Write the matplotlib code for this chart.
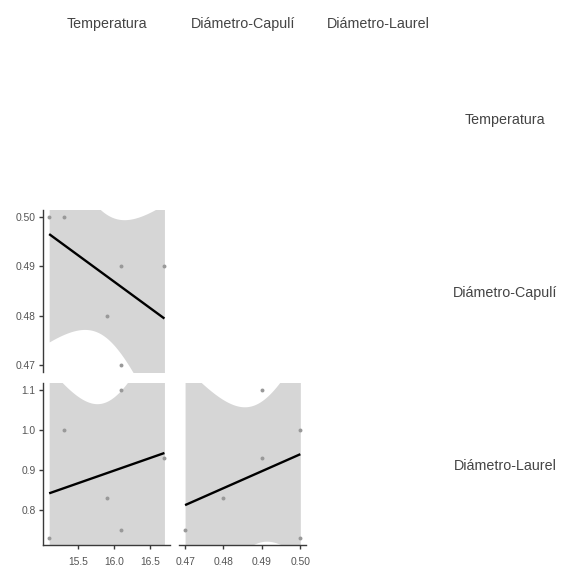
import numpy as np
import matplotlib
matplotlib.use("Agg")
import matplotlib.pyplot as plt

plt.rcParams['font.family'] = ['Liberation Sans', 'DejaVu Sans']

variables = ["Temperatura", "Diámetro-Capulí", "Diámetro-Laurel"]
temperatura = [15.1, 15.3, 16.1, 16.7, 15.9, 16.1]
capuli = [0.50, 0.50, 0.49, 0.49, 0.48, 0.47]
laurel = [0.73, 1.00, 1.10, 0.93, 0.83, 0.75]
data = [temperatura, capuli, laurel]

ticks = [[15.5, 16.0, 16.5], [0.47, 0.48, 0.49, 0.50], [0.8, 0.9, 1.0, 1.1]]
tick_labels = [["15.5", "16.0", "16.5"], ["0.47", "0.48", "0.49", "0.50"],
               ["0.8", "0.9", "1.0", "1.1"]]

T_CRIT = 2.776  # t quantile 0.975, df = n - 2 = 4

W, H = 563, 565
fig = plt.figure(figsize=(W / 100, H / 100), dpi=100)

col_left = [43.4, 179.3, 315.2]
col_w = 126.8
row_top = [36.8, 209.6, 382.6]
row_h = 162.8

def lims(v):
    v = np.asarray(v, float)
    r = v.max() - v.min()
    return v.min() - 0.05 * r, v.max() + 0.05 * r

spine_col = "#3a3a3a"
tick_col = "#555555"

for i in range(3):       # row (y variable)
    for j in range(3):   # col (x variable)
        if j >= i:
            continue
        ax = fig.add_axes([col_left[j] / W, 1 - (row_top[i] + row_h) / H,
                           col_w / W, row_h / H])
        x = np.asarray(data[j], float)
        y = np.asarray(data[i], float)
        n = len(x)
        b, a = np.polyfit(x, y, 1)
        xs = np.linspace(x.min(), x.max(), 200)
        fit = a + b * xs
        resid = y - (a + b * x)
        s = np.sqrt(np.sum(resid ** 2) / (n - 2))
        sxx = np.sum((x - x.mean()) ** 2)
        se = s * np.sqrt(1 / n + (xs - x.mean()) ** 2 / sxx)
        ax.fill_between(xs, fit - T_CRIT * se, fit + T_CRIT * se,
                        color="#d6d6d6", lw=0, zorder=1)
        ax.scatter(x, y, s=8, color="#999999", lw=0, zorder=2)
        ax.plot(xs, fit, color="black", lw=1.7, zorder=3, solid_capstyle="butt")
        ax.set_xlim(*lims(data[j]))
        ax.set_ylim(*lims(data[i]))
        ax.set_facecolor("none")
        for sp in ax.spines.values():
            sp.set_visible(False)
        ax.tick_params(colors=spine_col, labelcolor=tick_col, labelsize=7.4,
                       length=3, width=1, pad=2.5)
        if j == 0:
            ax.spines["left"].set_visible(True)
            ax.spines["left"].set_color(spine_col)
            ax.spines["left"].set_linewidth(1)
            ax.set_yticks(ticks[i])
            ax.set_yticklabels(tick_labels[i])
        else:
            ax.set_yticks([])
        if i == 2:
            ax.spines["bottom"].set_visible(True)
            ax.spines["bottom"].set_color(spine_col)
            ax.spines["bottom"].set_linewidth(1)
            ax.set_xticks(ticks[j])
            ax.set_xticklabels(tick_labels[j])
            ax.tick_params(axis="x", pad=5)
        else:
            ax.set_xticks([])

label_col = "#444444"
for j, name in enumerate(variables):
    fig.text((col_left[j] + col_w / 2) / W, 1 - 24 / H, name, ha="center",
             va="center", fontsize=10.3, color=label_col)
for i, name in enumerate(variables):
    fig.text(505 / W, 1 - (row_top[i] + row_h / 2 + 2) / H, name, ha="center",
             va="center", fontsize=10.3, color=label_col)

fig.savefig("out.png", dpi=100)
